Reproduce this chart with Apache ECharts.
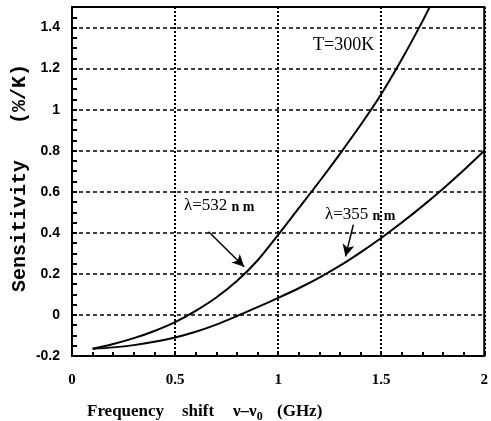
<!DOCTYPE html>
<html>
<head>
<meta charset="utf-8">
<script src="https://cdn.jsdelivr.net/npm/echarts@6/dist/echarts.min.js"></script>
<style>
  html, body { margin: 0; padding: 0; background: #fff; }
  #chart { width: 491px; height: 421px; }
</style>
</head>
<body>
<div id="chart"></div>
<script>
// values
const x532 = [0.1, 0.2, 0.3, 0.4, 0.5, 0.6, 0.7, 0.8, 0.9, 1.0, 1.1, 1.2, 1.3, 1.4, 1.5, 1.6, 1.7, 1.74]
const y532 = [-0.165, -0.142, -0.113, -0.078, -0.035, 0.02, 0.085, 0.165, 0.265, 0.39, 0.52, 0.65, 0.785, 0.925, 1.075, 1.245, 1.43, 1.51]
const x355 = [0.1, 0.2, 0.3, 0.4, 0.5, 0.6, 0.7, 0.8, 0.9, 1.0, 1.1, 1.2, 1.3, 1.4, 1.5, 1.6, 1.7, 1.8, 1.9, 2.0]
const y355 = [-0.165, -0.158, -0.147, -0.131, -0.11, -0.082, -0.047, -0.006, 0.038, 0.083, 0.13, 0.182, 0.24, 0.305, 0.375, 0.45, 0.53, 0.615, 0.705, 0.8]

// annotation arrows, [from, to] in data units
const arrow532 = [[0.663, 0.405], [0.835, 0.235]]
const arrow355 = [[1.365, 0.44], [1.327, 0.285]]

const serif = 'Liberation Serif'
const sans = 'Liberation Sans'

const chart = echarts.init(document.getElementById('chart'))

const zip = (xs, ys) => xs.map((x, i) => [x, ys[i]])

const arrowLine = (pts) => ({
  silent: true,
  symbol: ['none', 'arrow'],
  symbolSize: [9, 12],
  label: { show: false },
  lineStyle: { color: '#000', width: 1.5, type: 'solid' },
  data: [[{ coord: pts[0] }, { coord: pts[1] }]]
})

const option = {
  animation: false,
  backgroundColor: '#fff',
  grid: {
    left: 72, right: 3, top: 7, bottom: 65,
    show: true, borderColor: '#000', borderWidth: 2
  },
  xAxis: {
    type: 'value',
    min: 0, max: 2, interval: 0.5,
    axisLine: { show: true, onZero: false, lineStyle: { color: '#000', width: 2 } },
    axisTick: { show: true, inside: true, length: 5, lineStyle: { color: '#000', width: 2 } },
    minorTick: { show: true, splitNumber: 5, length: 4, lineStyle: { color: '#000', width: 2 } },
    axisLabel: {
      color: '#000', fontFamily: serif, fontWeight: 'bold', fontSize: 15, margin: 17,
      formatter: v => String(v)
    },
    splitLine: { show: true, lineStyle: { color: '#000', width: 2, type: [2, 2] } }
  },
  yAxis: [
    {
      type: 'value',
      min: -0.2, max: 1.5, interval: 0.2,
      axisLine: { show: true, onZero: false, lineStyle: { color: '#000', width: 2 } },
      axisTick: { show: true, inside: true, length: 5, lineStyle: { color: '#000', width: 2 } },
      axisLabel: {
        color: '#000', fontFamily: sans, fontWeight: 'bold', fontSize: 14, margin: 12,
        showMaxLabel: false,
        formatter: v => String(Math.round(v * 10) / 10)
      },
      splitLine: { show: true, lineStyle: { color: '#000', width: 1.5, type: [4, 3] } }
    },
    {
      // minor ticks every 0.05
      type: 'value',
      position: 'left',
      min: -0.2, max: 1.5, interval: 0.05,
      axisLine: { show: false },
      axisTick: { show: true, inside: true, length: 5, lineStyle: { color: '#000', width: 2 } },
      axisLabel: { show: false },
      splitLine: { show: false }
    }
  ],
  series: [
    {
      name: '532',
      type: 'line',
      smooth: 0.3,
      showSymbol: false,
      data: zip(x532, y532),
      lineStyle: { color: '#000', width: 2 },
      markLine: arrowLine(arrow532)
    },
    {
      name: '355',
      type: 'line',
      smooth: 0.3,
      showSymbol: false,
      data: zip(x355, y355),
      lineStyle: { color: '#000', width: 2 },
      markLine: arrowLine(arrow355)
    }
  ],
  graphic: [
    {
      type: 'text', x: 20, y: 178, rotation: Math.PI / 2,
      style: {
        text: 'Sensitivity   (%/K)', fill: '#000',
        font: 'bold 20px "Liberation Mono"', align: 'center', verticalAlign: 'middle'
      }
    },
    { type: 'text', left: 87, top: 403, style: { text: 'Frequency', fill: '#000', font: 'bold 17px "Liberation Serif"' } },
    { type: 'text', left: 182, top: 403, style: { text: 'shift', fill: '#000', font: 'bold 17px "Liberation Serif"' } },
    {
      type: 'text', left: 233, top: 403,
      style: {
        text: 'ν–ν{s|0}', fill: '#000', font: 'bold 17px "Liberation Serif"',
        rich: { s: { fontFamily: serif, fontWeight: 'bold', fontSize: 12, padding: [10, 0, 0, 0] } }
      }
    },
    { type: 'text', left: 277, top: 403, style: { text: '(GHz)', fill: '#000', font: 'bold 17px "Liberation Serif"' } },
    { type: 'text', left: 313, top: 36, style: { text: 'T=300K', fill: '#000', font: '18px "Liberation Serif"' } },
    {
      type: 'text', left: 184, top: 197,
      style: {
        text: 'λ=532 {n|n m}', fill: '#000', font: '17px "Liberation Serif"',
        rich: { n: { fontFamily: serif, fontWeight: 'bold', fontSize: 14, padding: [3, 0, 0, 0] } }
      }
    },
    {
      type: 'text', left: 325, top: 206,
      style: {
        text: 'λ=355 {n|n m}', fill: '#000', font: '17px "Liberation Serif"',
        rich: { n: { fontFamily: serif, fontWeight: 'bold', fontSize: 14, padding: [3, 0, 0, 0] } }
      }
    }
  ]
}

chart.setOption(option)
</script>
</body>
</html>
